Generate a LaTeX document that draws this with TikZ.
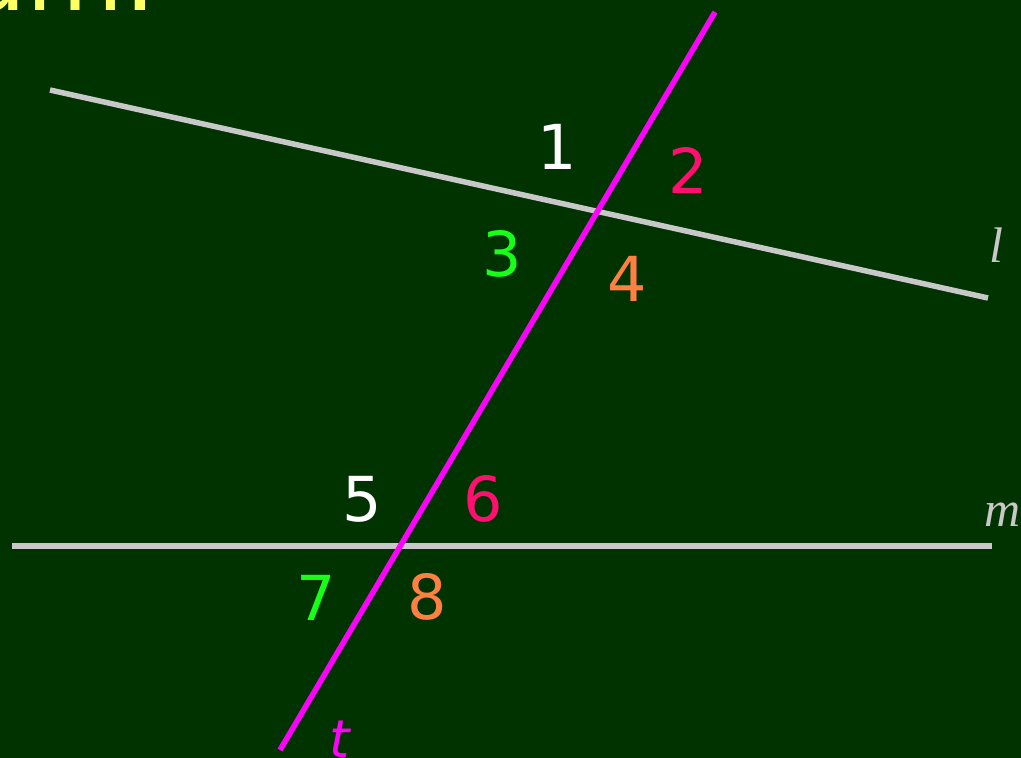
\documentclass[tikz,border=0pt]{standalone}
\usepackage{fontspec}
\setmainfont{DejaVu Sans}
\newfontfamily\serifit{Liberation Serif}
\definecolor{bg}{RGB}{0,51,0}
\definecolor{lgray}{RGB}{200,200,200}
\definecolor{mag}{RGB}{255,0,255}
\definecolor{pnk}{RGB}{255,16,112}
\definecolor{grn}{RGB}{24,255,24}
\definecolor{org}{RGB}{255,128,64}
\definecolor{ylw}{RGB}{255,255,102}
\tikzset{
  line/.style={line width=5.5pt},
  num/.style={font=\fontsize{62}{62}\selectfont, inner sep=0pt, anchor=base},
  lbl/.style={font=\fontsize{50}{50}\selectfont\serifit\itshape, text=lgray, inner sep=0pt, anchor=base}
}
\begin{document}
\begin{tikzpicture}[x=1pt,y=-1pt]
\useasboundingbox (0,0) rectangle (1021,758);
\clip (0,0) rectangle (1021,758);
\fill[bg] (0,0) rectangle (1021,758);
\node[font=\fontsize{100}{100}\selectfont, text=ylw, inner sep=0pt, anchor=base west] (title) at (-35,10) {am:};
\coordinate (l1) at (50,90);
\coordinate (l2) at (988,298);
\coordinate (m1) at (12,546);
\coordinate (m2) at (992,546);
\coordinate (t1) at (715,12);
\coordinate (t2) at (280,750);
\draw[line, lgray] (l1) -- (l2);
\draw[line, lgray] (m1) -- (m2);
\draw[line, mag] (t1) -- (t2);
\node[num, text=white] (n1) at (557,169) {1};
\node[num, text=pnk] (n2) at (688,193) {2};
\node[num, text=grn] (n3) at (502,276) {3};
\node[num, text=org] (n4) at (627,301) {4};
\node[num, text=white] (n5) at (362,521) {5};
\node[num, text=pnk] (n6) at (483,521) {6};
\node[num, text=grn] (n7) at (316,620) {7};
\node[num, text=org] (n8) at (427,619) {8};
\node[lbl] (ll) at (996,262) {l};
\node[lbl] (lm) at (1003,526) {m};
\node[font=\fontsize{52}{52}\selectfont\itshape, text=mag, inner sep=0pt, anchor=base] (lt) at (340,757) {t};
\end{tikzpicture}
\end{document}
